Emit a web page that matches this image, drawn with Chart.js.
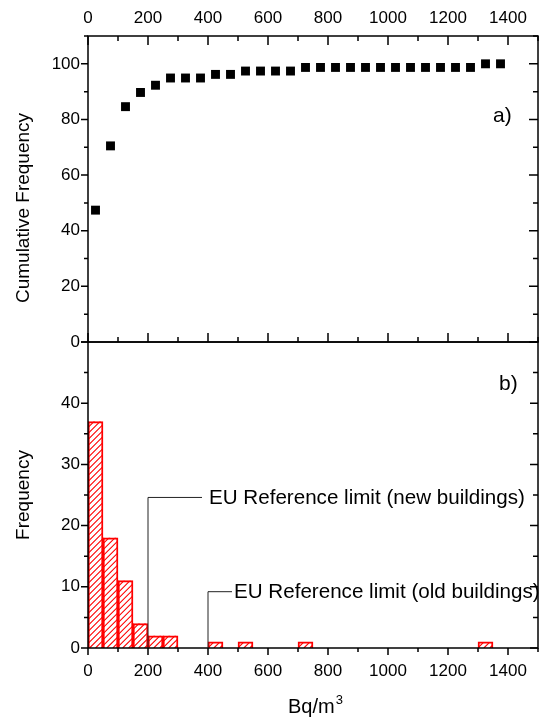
<!DOCTYPE html>
<html lang="en">
<head>
<meta charset="UTF-8">
<title>Cumulative frequency and histogram</title>
<script src="https://cdn.jsdelivr.net/npm/chart.js"></script>
<style>
  body { margin: 0; background: #fff; }
  #wrap { position: relative; width: 539px; height: 718px; }
  #cumChart { position: absolute; left: 0; top: 0; }
  #histChart { position: absolute; left: 0; top: 330px; }
</style>
</head>
<body>
<div id="wrap">
  <canvas id="cumChart" width="539" height="360"></canvas>
  <canvas id="histChart" width="539" height="388"></canvas>
</div>
<script>
// panel a) cumulative frequency (%), one point per 50 Bq/m3 bin
const binCenters = [25, 75, 125, 175, 225, 275, 325, 375, 425, 475, 525, 575, 625, 675,
  725, 775, 825, 875, 925, 975, 1025, 1075, 1125, 1175, 1225, 1275, 1325, 1375];
const cumFreq = [47.4, 70.5, 84.6, 89.7, 92.3, 94.9, 94.9, 94.9, 96.2, 96.2, 97.4, 97.4, 97.4, 97.4,
  98.7, 98.7, 98.7, 98.7, 98.7, 98.7, 98.7, 98.7, 98.7, 98.7, 98.7, 98.7, 100, 100];

// panel b) histogram counts (empty bins left out)
const histCenters = [25, 75, 125, 175, 225, 275, 425, 525, 725, 1325];
const histCounts = [37, 18, 11, 4, 2, 2, 1, 1, 1, 1];

// reference limits
const limitValues = [200, 400];
const limitLabels = ['EU Reference limit (new buildings)', 'EU Reference limit (old buildings)'];

const FONT = '"Liberation Sans", Arial, sans-serif';

// tick marks along one edge, through the chart's own scale
function edgeTicks(ctx, scale, fixed, horizontal, dir, majorEvery, majorLen, minorLen) {
  ctx.beginPath();
  scale.ticks.forEach(t => {
    const p = scale.getPixelForValue(t.value);
    const len = t.value % majorEvery === 0 ? majorLen : minorLen;
    if (horizontal) { ctx.moveTo(p, fixed); ctx.lineTo(p, fixed + dir * len); }
    else { ctx.moveTo(fixed, p); ctx.lineTo(fixed + dir * len, p); }
  });
  ctx.stroke();
}

function vText(ctx, text, x, y, size) {
  ctx.save();
  ctx.translate(x, y);
  ctx.rotate(-Math.PI / 2);
  ctx.font = size + 'px ' + FONT;
  ctx.textAlign = 'center';
  ctx.textBaseline = 'middle';
  ctx.fillText(text, 0, 0);
  ctx.restore();
}

// fixed axis box sizes, no extra label padding
function fixSize(w, h) {
  return s => {
    if (w) s.width = w;
    if (h) s.height = h;
    s.paddingLeft = s.paddingRight = s.paddingTop = s.paddingBottom = 0;
  };
}

const cumFrame = {
  id: 'cumFrame',
  afterDraw(chart) {
    const { ctx, chartArea: a, scales: { x, y } } = chart;
    ctx.save();
    ctx.strokeStyle = '#000';
    ctx.lineWidth = 1.5;
    ctx.strokeRect(a.left, a.top, a.right - a.left, a.bottom - a.top);
    edgeTicks(ctx, x, a.top, true, 1, 200, 9, 5);
    edgeTicks(ctx, x, a.bottom, true, -1, 200, 9, 5);
    edgeTicks(ctx, y, a.left, false, -1, 20, 7, 4);
    edgeTicks(ctx, y, a.right, false, -1, 20, 9, 5);
    ctx.fillStyle = '#000';
    vText(ctx, 'Cumulative Frequency', 24, 208, 19);
    ctx.font = '21px ' + FONT;
    ctx.textAlign = 'left';
    ctx.textBaseline = 'middle';
    ctx.fillText('a)', 493, 116);
    ctx.restore();
  }
};

const histFrame = {
  id: 'histFrame',
  // red diagonal hatching inside every bar element
  beforeDatasetsDraw(chart) {
    const ctx = chart.ctx;
    ctx.save();
    ctx.strokeStyle = '#ff0000';
    ctx.lineWidth = 1.1;
    chart.getDatasetMeta(0).data.forEach(bar => {
      const { x, y, base, width } = bar.getProps(['x', 'y', 'base', 'width'], true);
      const l = x - width / 2, r = x + width / 2;
      ctx.save();
      ctx.beginPath();
      ctx.rect(l, y, width, base - y);
      ctx.clip();
      ctx.beginPath();
      for (let s = l - (base - y); s < r; s += 6) {
        ctx.moveTo(s, base);
        ctx.lineTo(s + (base - y) + 6, y - 6);
      }
      ctx.stroke();
      ctx.restore();
    });
    ctx.restore();
  },
  afterDraw(chart) {
    const { ctx, chartArea: a, scales: { x, y } } = chart;
    ctx.save();
    ctx.strokeStyle = '#000';
    ctx.lineWidth = 1.5;
    ctx.strokeRect(a.left, a.top, a.right - a.left, a.bottom - a.top);
    edgeTicks(ctx, x, a.bottom, true, 1, 200, 7, 4);
    edgeTicks(ctx, y, a.left, false, -1, 10, 7, 4);
    edgeTicks(ctx, y, a.right, false, -1, 10, 8, 5);

    // reference limit callouts
    const callouts = [[24.6, 380, 7], [9.2, 480, 2]];
    ctx.lineWidth = 1;
    ctx.strokeStyle = '#222';
    ctx.fillStyle = '#000';
    ctx.font = '20.6px ' + FONT;
    ctx.textAlign = 'left';
    ctx.textBaseline = 'middle';
    limitValues.forEach((v, i) => {
      const [lev, endX, gap] = callouts[i];
      const px = x.getPixelForValue(v);
      const py = y.getPixelForValue(lev);
      const ex = x.getPixelForValue(endX);
      ctx.beginPath();
      ctx.moveTo(px, a.bottom);
      ctx.lineTo(px, py);
      ctx.lineTo(ex, py);
      ctx.stroke();
      ctx.fillText(limitLabels[i], ex + gap, py + 1);
    });

    ctx.font = '21px ' + FONT;
    ctx.fillText('b)', 499, 384 - 330);
    vText(ctx, 'Frequency', 24, 495 - 330, 19);

    // x title with superscript
    ctx.textBaseline = 'alphabetic';
    ctx.font = '20px ' + FONT;
    ctx.fillText('Bq/m', 288, 713 - 330);
    const w = ctx.measureText('Bq/m').width;
    ctx.font = '13px ' + FONT;
    ctx.fillText('3', 288 + w + 1, 704 - 330);
    ctx.restore();
  }
};

const tickFont = { family: FONT, size: 17 };
const noGrid = { display: false, drawTicks: false };

new Chart(document.getElementById('cumChart'), {
  type: 'scatter',
  data: {
    datasets: [{
      data: binCenters.map((c, i) => ({ x: c, y: cumFreq[i] })),
      pointStyle: 'rect',
      pointRadius: 6.3,
      backgroundColor: '#000',
      borderWidth: 0
    }]
  },
  options: {
    responsive: false,
    animation: false,
    layout: { autoPadding: false, padding: { left: 0, right: 1, top: 0, bottom: 18 } },
    plugins: { legend: { display: false }, tooltip: { enabled: false } },
    scales: {
      x: {
        type: 'linear', position: 'top', min: 0, max: 1500,
        grid: noGrid, border: { display: false },
        ticks: { stepSize: 100, autoSkip: false, maxRotation: 0, padding: 7, color: '#000', font: tickFont,
          callback: v => (v % 200 === 0 && v < 1500) ? v : '' },
        afterFit: fixSize(0, 36)
      },
      y: {
        min: 0, max: 110,
        grid: noGrid, border: { display: false },
        ticks: { stepSize: 10, autoSkip: false, padding: 8, color: '#000', font: tickFont,
          callback: v => (v % 20 === 0 && v <= 100) ? v : '' },
        afterFit: fixSize(88, 0)
      }
    }
  },
  plugins: [cumFrame]
});

new Chart(document.getElementById('histChart'), {
  type: 'bar',
  data: {
    datasets: [{
      data: histCenters.map((c, i) => ({ x: c, y: histCounts[i] })),
      backgroundColor: 'rgba(255,255,255,0)',
      borderColor: '#ff0000',
      borderWidth: 1.3,
      barPercentage: 1,
      categoryPercentage: 1
    }]
  },
  options: {
    responsive: false,
    animation: false,
    layout: { autoPadding: false, padding: { left: 0, right: 1, top: 12, bottom: 0 } },
    plugins: { legend: { display: false }, tooltip: { enabled: false } },
    scales: {
      x: {
        type: 'linear', position: 'bottom', min: 0, max: 1500, offset: false,
        grid: noGrid, border: { display: false },
        ticks: { stepSize: 100, autoSkip: false, maxRotation: 0, padding: 13, color: '#000', font: tickFont,
          callback: v => (v % 200 === 0 && v < 1500) ? v : '' },
        afterFit: fixSize(0, 70)
      },
      y: {
        min: 0, max: 50,
        grid: noGrid, border: { display: false },
        ticks: { stepSize: 5, autoSkip: false, padding: 8, color: '#000', font: tickFont,
          callback: v => (v % 10 === 0 && v <= 40) ? v : '' },
        afterFit: fixSize(88, 0)
      }
    }
  },
  plugins: [histFrame]
});
</script>
</body>
</html>
